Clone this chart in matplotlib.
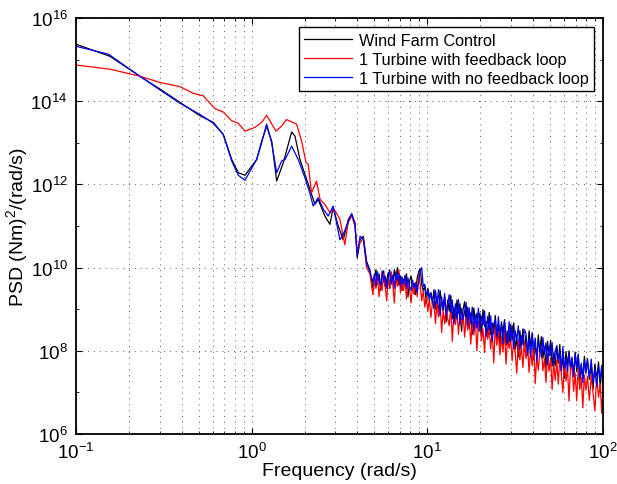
import numpy as np
import matplotlib
matplotlib.use("Agg")
import matplotlib.pyplot as plt
from matplotlib.ticker import LogLocator, NullFormatter

plt.rcParams['font.family'] = ['Liberation Sans', 'DejaVu Sans']
plt.rcParams['mathtext.fontset'] = 'custom'
plt.rcParams['mathtext.rm'] = 'Liberation Sans'
plt.rcParams['mathtext.it'] = 'Liberation Sans:italic'
plt.rcParams['mathtext.default'] = 'regular'

# low-frequency part, read point by point (frequency in rad/s, log10 of PSD)
f_black_lo = [0.1, 0.156, 0.231, 0.301, 0.391, 0.508, 0.605, 0.689, 0.77, 0.839,
              0.916, 1.068, 1.14, 1.217, 1.30, 1.388, 1.513, 1.689, 1.764, 1.883,
              2.056, 2.194, 2.29, 2.39, 2.61, 2.79, 2.91, 3.11, 3.32, 3.55,
              3.71, 3.87, 3.99, 4.14, 4.32, 4.51, 4.71]
p_black_lo = [15.37, 15.08, 14.6, 14.29, 13.97, 13.65, 13.49, 13.2, 12.6, 12.28,
              12.22, 12.6, 13.04, 13.4, 13.04, 12.08, 12.52, 13.26, 13.16, 12.6,
              12.12, 11.76, 11.52, 11.64, 11.24, 11.04, 11.44, 11.0, 10.67, 11.16,
              11.28, 11.08, 10.23, 10.67, 10.75, 10.15, 9.95]

f_red_lo = [0.1, 0.156, 0.231, 0.301, 0.391, 0.465, 0.53, 0.618, 0.689, 0.77,
            0.839, 0.916, 1.044, 1.14, 1.217, 1.375, 1.48, 1.58, 1.689, 1.80,
            1.925, 2.04, 2.10, 2.19, 2.34, 2.45, 2.61, 2.79, 2.95, 3.18,
            3.39, 3.55, 3.71, 3.87, 4.0, 4.14, 4.32, 4.51, 4.71]
p_red_lo = [14.87, 14.77, 14.6, 14.45, 14.35, 14.19, 14.13, 13.82, 13.74, 13.53,
            13.47, 13.28, 13.37, 13.49, 13.66, 13.28, 13.4, 13.56, 13.5, 13.45,
            13.04, 12.52, 12.48, 11.8, 12.08, 11.64, 11.52, 11.32, 11.4, 11.16,
            10.55, 11.1, 11.25, 11.0, 10.35, 10.6, 10.7, 10.0, 9.85]

f_blue_lo = [0.1, 0.153, 0.231, 0.301, 0.391, 0.508, 0.605, 0.689, 0.77, 0.839,
             0.916, 1.068, 1.14, 1.217, 1.30, 1.388, 1.48, 1.55, 1.689, 1.84,
             2.01, 2.14, 2.24, 2.39, 2.56, 2.73, 2.91, 3.18, 3.32, 3.55,
             3.71, 3.87, 3.99, 4.14, 4.32, 4.51, 4.71]
p_blue_lo = [15.32, 15.13, 14.6, 14.27, 13.95, 13.68, 13.47, 13.2, 12.56, 12.22,
             12.1, 12.6, 13.0, 13.45, 13.0, 12.28, 12.56, 12.6, 12.92, 12.6,
             12.16, 11.8, 11.48, 11.68, 11.4, 11.24, 11.48, 10.67, 10.8, 11.1,
             11.3, 11.05, 10.3, 10.75, 10.7, 10.1, 9.9]

# high-frequency part, one shared frequency grid
f_hi = [4.9, 5.0, 5.1, 5.2, 5.31, 5.42, 5.53, 5.64, 5.75, 5.87,
        5.99, 6.11, 6.23, 6.36, 6.49, 6.62, 6.75, 6.89, 7.03, 7.17,
        7.31, 7.46, 7.61, 7.76, 7.92, 8.08, 8.24, 8.41, 8.58, 8.75,
        8.93, 9.11, 9.29, 9.48, 9.67, 9.87, 10.07, 10.27, 10.48, 10.69,
        10.91, 11.13, 11.35, 11.58, 11.82, 12.06, 12.3, 12.55, 12.8, 13.06,
        13.33, 13.6, 13.88, 14.16, 14.45, 14.74, 15.04, 15.35, 15.66, 15.98,
        16.3, 16.63, 16.97, 17.31, 17.66, 18.02, 18.39, 18.76, 19.14, 19.53,
        19.93, 20.33, 20.75, 21.17, 21.6, 22.04, 22.49, 22.95, 23.41, 23.89,
        24.37, 24.87, 25.37, 25.89, 26.41, 26.95, 27.5, 28.06, 28.63, 29.21,
        29.8, 30.41, 31.03, 31.66, 32.3, 32.96, 33.63, 34.31, 35.01, 35.72,
        36.45, 37.19, 37.95, 38.72, 39.51, 40.31, 41.13, 41.97, 42.82, 43.69,
        44.58, 45.49, 46.41, 47.36, 48.32, 49.3, 50.3, 51.33, 52.37, 53.44,
        54.53, 55.64, 56.77, 57.93, 59.11, 60.31, 61.54, 62.79, 64.07, 65.37,
        66.7, 68.06, 69.44, 70.85, 72.29, 73.76, 75.26, 76.79, 78.35, 79.94,
        81.57, 83.6, 85.7, 87.8, 89.9, 92.1, 94.3, 96.5, 98.3, 100.0]

p_black_hi = [9.5, 9.72, 9.95, 9.6, 9.85, 9.45, 9.78, 9.92, 9.55, 9.7,
              9.88, 9.5, 9.75, 9.62, 9.95, 9.7, 10.0, 9.58, 9.8, 9.45,
              9.72, 9.55, 9.85, 9.3, 9.68, 9.8, 9.5, 9.62, 9.35, 9.75,
              9.9, 9.98, 9.6, 9.45, 9.55, 9.15, 9.5, 9.3, 9.4, 9.12,
              9.47, 9.0, 9.29, 8.82, 9.45, 9.14, 8.97, 9.3, 8.69, 9.22,
              8.95, 9.33, 8.77, 9.05, 8.68, 9.22, 8.9, 9.13, 8.47, 9.0,
              9.18, 8.71, 9.05, 8.53, 8.91, 8.4, 9.03, 8.71, 8.9, 8.48,
              8.91, 8.39, 8.99, 8.58, 8.71, 8.31, 8.92, 8.39, 8.67, 8.41,
              8.85, 8.28, 8.62, 8.1, 8.7, 8.42, 8.75, 8.13, 8.47, 8.2,
              8.63, 8.26, 8.67, 8.03, 8.31, 7.85, 8.48, 8.11, 8.53, 7.98,
              8.36, 7.89, 8.48, 8.11, 8.39, 7.78, 8.13, 7.86, 8.38, 7.96,
              8.34, 7.82, 8.1, 7.59, 8.23, 7.87, 8.25, 7.63, 7.95, 7.64,
              8.12, 7.7, 8.15, 7.52, 7.91, 7.34, 7.98, 7.66, 8.0, 7.52,
              7.8, 7.38, 7.97, 7.5, 7.88, 7.27, 7.65, 7.33, 7.87, 7.5,
              7.81, 7.31, 7.66, 7.08, 7.68, 7.31, 7.73, 7.1, 7.59, 7.33]

p_red_hi = [9.35, 9.7, 9.5, 9.8, 9.3, 9.65, 9.45, 9.85, 9.55, 9.2,
            9.75, 9.5, 9.9, 9.6, 9.15, 9.78, 9.55, 9.95, 9.4, 9.65,
            9.45, 9.7, 9.25, 9.6, 9.5, 9.15, 9.55, 9.35, 9.65, 9.3,
            9.85, 9.6, 9.2, 9.45, 9.05, 9.3, 8.95, 9.25, 8.8, 9.15,
            9.17, 8.65, 9.19, 8.82, 9.2, 8.44, 8.97, 8.65, 9.09, 8.77,
            8.6, 9.08, 8.22, 8.9, 8.63, 9.0, 8.4, 8.88, 8.62, 8.9,
            8.33, 8.81, 8.5, 8.88, 8.16, 8.65, 8.38, 8.76, 8.0, 8.63,
            8.71, 8.24, 8.53, 7.96, 8.69, 8.28, 8.56, 8.04, 8.48, 7.71,
            8.6, 8.13, 8.47, 7.9, 8.33, 7.97, 8.48, 7.68, 8.32, 8.05,
            8.28, 7.76, 8.35, 7.93, 7.46, 8.25, 7.78, 8.11, 7.6, 8.23,
            7.81, 8.14, 7.48, 8.06, 7.64, 8.13, 7.21, 7.89, 7.53, 7.96,
            8.04, 7.52, 7.81, 7.24, 7.92, 7.51, 7.84, 7.07, 7.71, 7.29,
            7.77, 7.2, 7.84, 7.42, 7.0, 7.74, 7.27, 7.6, 6.79, 7.62,
            7.6, 7.03, 7.47, 6.8, 7.58, 7.07, 7.35, 6.63, 7.42, 7.05,
            7.38, 6.81, 7.4, 6.98, 6.56, 7.4, 6.88, 7.21, 6.5, 7.13]

p_blue_hi = [9.65, 9.85, 9.55, 9.9, 9.7, 9.58, 9.92, 9.65, 9.8, 9.5,
             9.72, 9.95, 9.6, 9.82, 9.5, 9.9, 9.7, 9.85, 9.55, 9.78,
             9.6, 9.82, 9.5, 9.75, 9.55, 9.45, 9.7, 9.5, 9.62, 9.4,
             9.7, 9.92, 10.0, 9.55, 9.6, 9.35, 9.45, 9.22, 9.38, 9.25,
             9.02, 9.45, 9.14, 9.47, 8.85, 9.29, 9.02, 9.38, 8.84, 9.12,
             9.35, 8.93, 9.22, 8.65, 9.13, 8.77, 9.23, 8.63, 9.02, 8.75,
             8.93, 9.16, 8.6, 9.03, 8.66, 9.05, 8.48, 8.86, 8.55, 9.03,
             8.46, 8.84, 8.63, 8.96, 8.34, 8.83, 8.51, 8.84, 8.23, 8.66,
             8.75, 8.33, 8.82, 8.4, 8.63, 8.17, 8.7, 8.43, 8.17, 8.7,
             8.23, 8.61, 8.05, 8.48, 8.26, 8.6, 8.03, 8.36, 8.15, 8.51,
             8.41, 7.94, 8.28, 7.86, 8.44, 8.03, 8.31, 7.74, 8.23, 8.11,
             7.84, 8.32, 7.91, 8.19, 7.67, 8.11, 7.89, 8.2, 7.66, 7.99,
             8.12, 7.75, 7.99, 7.52, 8.1, 7.59, 7.82, 7.5, 7.94, 7.62,
             7.85, 7.38, 7.92, 7.6, 7.93, 7.37, 7.7, 7.23, 7.77, 7.45,
             7.78, 7.36, 7.8, 7.23, 7.56, 7.15, 7.63, 7.31, 7.65, 7.18]

labels = ['Wind Farm Control', '1 Turbine with feedback loop',
          '1 Turbine with no feedback loop']
colors = ['black', 'red', 'blue']

series = [
    (f_black_lo + f_hi, p_black_lo + p_black_hi),
    (f_red_lo + f_hi, p_red_lo + p_red_hi),
    (f_blue_lo + f_hi, p_blue_lo + p_blue_hi),
]

fig = plt.figure(figsize=(6.17, 4.85), dpi=100)
ax = fig.add_axes([76 / 617, 50 / 485, 527 / 617, 416 / 485])

for (f, p), c, lab in zip(series, colors, labels):
    ax.loglog(f, 10.0 ** np.array(p), color=c, lw=0.9, label=lab)

ax.set_xlim(0.1, 100)
ax.set_ylim(1e6, 1e16)
ax.set_yticks([1e6, 1e8, 1e10, 1e12, 1e14, 1e16])
ax.yaxis.set_minor_locator(LogLocator(base=10, subs=(1.0,), numticks=20))
ax.yaxis.set_minor_formatter(NullFormatter())
ax.xaxis.set_minor_locator(LogLocator(base=10, subs=np.arange(2, 10), numticks=20))
ax.xaxis.set_minor_formatter(NullFormatter())

grid_style = dict(ls=(0, (1, 5)), color='0.35', lw=0.7)
ax.grid(True, which='major', axis='both', **grid_style)
ax.grid(True, which='minor', axis='x', **grid_style)

ax.tick_params(which='both', direction='in', top=True, right=True, labelsize=13.5)
ax.tick_params(which='major', length=4)
ax.tick_params(which='minor', length=2.5)
ax.tick_params(axis='x', pad=6)
ax.tick_params(axis='y', pad=6)
for s in ax.spines.values():
    s.set_linewidth(1.3)

ax.set_xlabel('Frequency (rad/s)', fontsize=14, labelpad=0)
ax.set_ylabel('PSD (Nm)$^2$/(rad/s)', fontsize=14, labelpad=0)

leg = ax.legend(loc='upper right', fontsize=11.7, fancybox=False, framealpha=1,
                edgecolor='black', borderpad=0.35, labelspacing=0.25,
                handlelength=2.95, handletextpad=0.4, borderaxespad=0.55)
leg.get_frame().set_linewidth(1.0)

fig.savefig('out.png', dpi=100)
